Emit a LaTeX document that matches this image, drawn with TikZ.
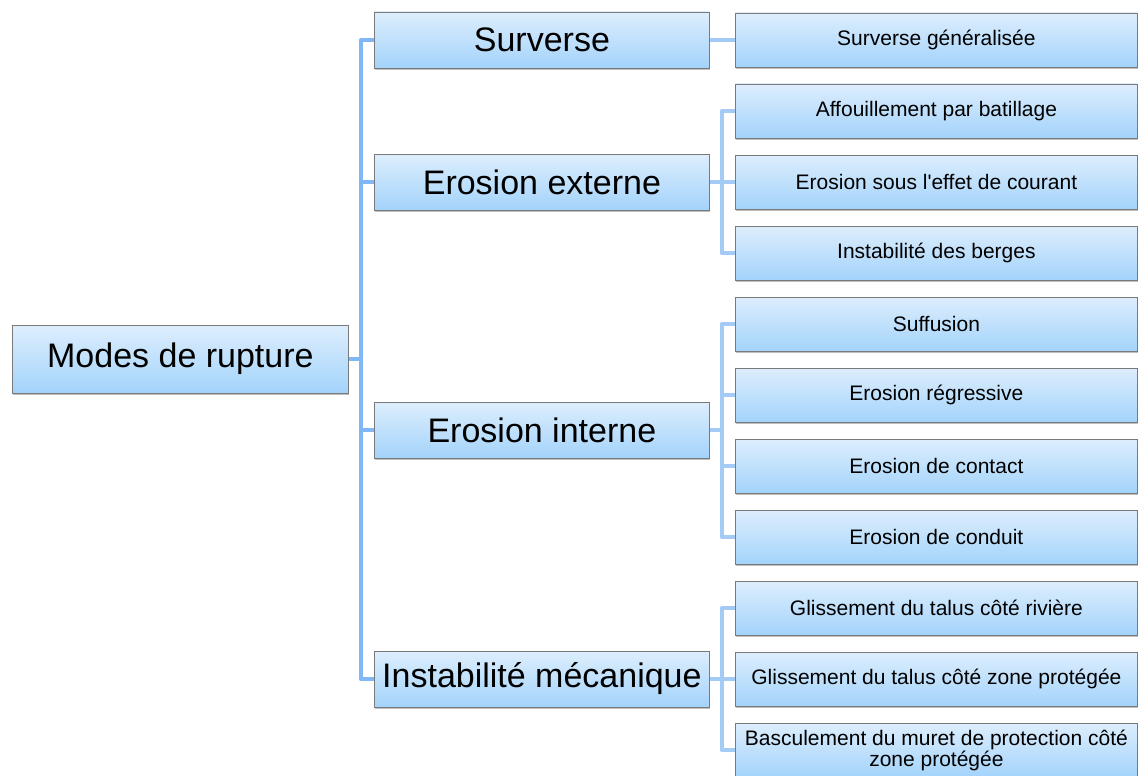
\documentclass[tikz,border=0pt]{standalone}
\usepackage{fontspec}
\setmainfont{Liberation Sans}
\usetikzlibrary{shadows}
\definecolor{TOPB}{HTML}{DDEEFD}
\definecolor{BOTB}{HTML}{A3D3FB}
\definecolor{EDGE}{HTML}{7A7A7A}
\definecolor{TRUNK}{HTML}{80B8F7}
\definecolor{TWIG}{HTML}{A4CAF6}

\begin{document}
\begin{tikzpicture}[x=1pt,y=-1pt]
\tikzset{box/.style={draw=EDGE,line width=0.8pt,top color=TOPB,bottom color=BOTB,inner sep=0pt,anchor=west,align=center,
 drop shadow={shadow xshift=0.6pt,shadow yshift=-2.2pt,opacity=0.5}},
 rootbox/.style={box,minimum width=336pt,minimum height=68pt,font=\fontsize{34}{40}\selectfont},
 modebox/.style={box,minimum width=335pt,minimum height=56pt,font=\fontsize{34}{40}\selectfont},
 leafbox/.style={box,minimum width=402pt,minimum height=54pt,font=\fontsize{21}{21}\selectfont},
 trunk/.style={TRUNK,line width=4.5pt,line join=round},twig/.style={TWIG,line width=4.5pt,line join=round}}
\useasboundingbox (0,0) rectangle (1138,776);
\node[rootbox] (modes) at (12,359) {Modes de rupture};
\node[modebox] (surv) at (374,40) {Surverse};
\node[modebox] (ext) at (374,182) {Erosion externe};
\node[modebox] (int) at (374,430) {Erosion interne};
\node[modebox] (meca) at (374,679) {Instabilité mécanique};
\node[leafbox] (gen) at (735,40) {Surverse généralisée};
\node[leafbox] (bat) at (735,111) {Affouillement par batillage};
\node[leafbox] (cour) at (735,182) {Erosion sous l\textquotesingle effet de courant};
\node[leafbox] (berg) at (735,253) {Instabilité des berges};
\node[leafbox] (suff) at (735,324) {Suffusion};
\node[leafbox] (regr) at (735,395) {Erosion régressive};
\node[leafbox] (cont) at (735,466) {Erosion de contact};
\node[leafbox] (cond) at (735,537) {Erosion de conduit};
\node[leafbox] (riv) at (735,608) {Glissement du talus côté rivière};
\node[leafbox] (prot) at (735,679) {Glissement du talus côté zone protégée};
\node[leafbox] (mur) at (735,750) {Basculement du muret de protection côté\\zone protégée};
\coordinate (t0) at (361,359);
\coordinate (t1) at (722,182);
\coordinate (t2) at (722,430);
\coordinate (t3) at (722,679);
\draw[trunk] (modes.east) -- (t0);
\draw[trunk] (surv.west) -| (t0) |- (meca.west);
\draw[trunk] (ext.west) -- (ext.west -| t0);
\draw[trunk] (int.west) -- (int.west -| t0);
\draw[twig] (surv.east) -- (gen.west);
\draw[twig] (ext.east) -- (cour.west);
\draw[twig] (bat.west) -| (t1) |- (berg.west);
\draw[twig] (int.east) -- (t2);
\draw[twig] (suff.west) -| (t2) |- (cond.west);
\draw[twig] (regr.west) -- (regr.west -| t2);
\draw[twig] (cont.west) -- (cont.west -| t2);
\draw[twig] (meca.east) -- (prot.west);
\draw[twig] (riv.west) -| (t3) |- (mur.west);
\end{tikzpicture}
\end{document}
